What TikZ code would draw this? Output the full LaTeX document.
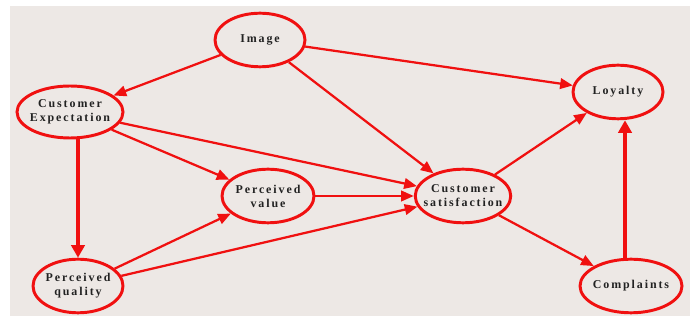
\documentclass[tikz,border=0pt]{standalone}
\usepackage{fontspec}
\newfontfamily\nodefont[LetterSpace=16]{Liberation Serif}
\usetikzlibrary{arrows.meta,shapes.geometric}
\definecolor{bgcolor}{HTML}{EDE8E5}
\definecolor{linkred}{HTML}{F01010}
\definecolor{textgray}{HTML}{222222}

\begin{document}
\begin{tikzpicture}[
  line width=1.6pt,
  every node/.style={font=\nodefont\bfseries\fontsize{8.5}{10}\selectfont},
  factor/.style={ellipse,draw=linkred,line width=2.1pt,
    inner xsep=-4pt,inner ysep=0pt,align=center,text=textgray,
    minimum width=2.25cm,minimum height=1.34cm},
  link/.style={draw=linkred,line width=1.6pt,
    -{Triangle[length=9pt,width=7.5pt]}},
  strong link/.style={draw=linkred,line width=2.8pt,
    -{Triangle[length=9pt,width=9.5pt]}}
]

% ==================================================
% 背景
% ==================================================
\useasboundingbox (0,0) rectangle (17.35,8);
\fill[bgcolor] (0.25,0.1) rectangle (17.25,7.85);

% ==================================================
% 構成要素
% ==================================================
\node[factor] (img) at (6.5,7.0) {Image};
\node[factor,minimum width=2.65cm,minimum height=1.3cm]
  (ce) at (1.75,5.2) {Customer\\Expectation};
\node[factor] (lo) at (15.45,5.7) {Loyalty};
\node[factor,minimum width=2.3cm] (pv) at (6.7,3.1) {Perceived\\value};
\node[factor] (pq) at (1.95,0.85) {Perceived\\quality};
\node[factor] (cs) at (11.575,3.1) {Customer\\satisfaction};
\node[factor,minimum width=2.55cm] (co) at (15.775,0.85) {Complaints};

% ==================================================
% 因果関係
% ==================================================
% Image から
\draw[link] (img) -- (ce);
\draw[link] (img) -- (lo);
\draw[link] (img) -- (cs);

% Customer Expectation から
\draw[link] (ce) -- (pv);
\draw[link] (ce) -- (cs);
\draw[strong link] (pq.north |- ce.south) -- (pq.north);

% Perceived quality / value から
\draw[link] (pq) -- (pv);
\draw[link] (pq) -- (cs);
\draw[link] (pv) -- (cs);

% Customer satisfaction から
\draw[link] (cs) -- (lo);
\draw[link] (cs) -- (co);

% Complaints から Loyalty へ
\draw[strong link]
  ([xshift=-0.15cm]co.north) -- ([xshift=-0.15cm]co.north |- lo.south);

\end{tikzpicture}
\end{document}
